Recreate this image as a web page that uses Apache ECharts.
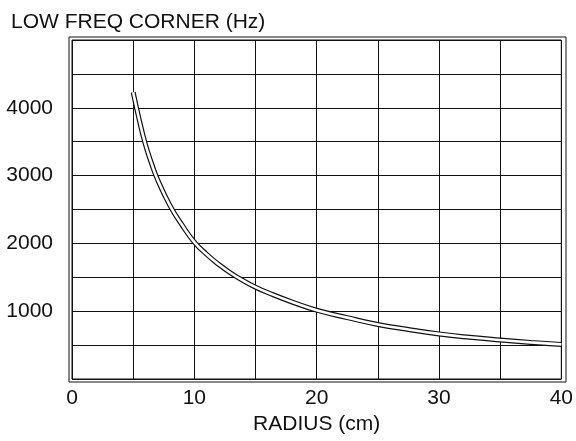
<!DOCTYPE html>
<html>
<head>
<meta charset="utf-8">
<script src="https://cdn.jsdelivr.net/npm/echarts@6/dist/echarts.min.js"></script>
<style>
html,body{margin:0;padding:0;background:#fff;}
#c{width:576px;height:441px;}
</style>
</head>
<body>
<div id="c"></div>
<script>
// Data
var radiusCm = [5, 5.5, 6, 6.5, 7, 8, 9, 10, 11, 12, 13, 14, 15, 16, 18, 20, 22.5, 25, 27.5, 30, 32.5, 35, 37.5, 40];
var cornerHz = [4230, 3820, 3460, 3180, 2940, 2560, 2270, 2020, 1840, 1690, 1560, 1450, 1355, 1275, 1135, 1015, 905, 805, 730, 665, 615, 575, 540, 510];
var xTickLabels = [0, 10, 20, 30, 40];
var yTickLabels = [1000, 2000, 3000, 4000];
var yTitle = 'LOW FREQ CORNER (Hz)';
var xTitle = 'RADIUS (cm)';

var pts = radiusCm.map(function (r, i) { return [r, cornerHz[i]]; });
var FONT = "'Liberation Sans', Arial, sans-serif";

var chart = echarts.init(document.getElementById('c'), null, { renderer: 'canvas' });
chart.setOption({
  animation: false,
  backgroundColor: '#fff',
  title: {
    text: yTitle,
    left: 6,
    top: 7,
    textStyle: { fontFamily: FONT, fontSize: 21, fontWeight: 'normal', color: '#111' }
  },
  grid: [
    { left: 72, top: 40, right: 13, bottom: 62, show: true, borderColor: '#111', borderWidth: 1, backgroundColor: 'transparent' },
    { left: 69, top: 37, right: 10, bottom: 59, show: true, borderColor: '#111', borderWidth: 1, backgroundColor: 'transparent' }
  ],
  xAxis: [
    {
      type: 'value', gridIndex: 0, min: 0, max: 40, interval: 5,
      axisLine: { show: false }, axisTick: { show: false },
      splitLine: { show: true, lineStyle: { color: '#111', width: 1 } },
      axisLabel: {
        margin: 9, fontFamily: FONT, fontSize: 21, color: '#111',
        formatter: function (v) { return xTickLabels.indexOf(v) >= 0 ? String(v) : ''; }
      },
      name: xTitle, nameLocation: 'middle', nameGap: 31,
      nameTextStyle: { fontFamily: FONT, fontSize: 21, color: '#111' }
    },
    { type: 'value', gridIndex: 1, show: false, min: 0, max: 1 }
  ],
  yAxis: [
    {
      type: 'value', gridIndex: 0, min: 0, max: 5000, interval: 500,
      axisLine: { show: false }, axisTick: { show: false },
      splitLine: { show: true, lineStyle: { color: '#111', width: 1 } },
      axisLabel: {
        margin: 19, fontFamily: FONT, fontSize: 21, color: '#111',
        formatter: function (v) { return yTickLabels.indexOf(v) >= 0 ? String(v) : ''; }
      }
    },
    { type: 'value', gridIndex: 1, show: false, min: 0, max: 1 }
  ],
  series: [
    {
      type: 'line', xAxisIndex: 0, yAxisIndex: 0, data: pts,
      smooth: 0.5, showSymbol: false, silent: true,
      lineStyle: { color: '#111', width: 5, cap: 'butt' }
    },
    {
      type: 'line', xAxisIndex: 0, yAxisIndex: 0, data: pts,
      smooth: 0.5, showSymbol: false, silent: true,
      lineStyle: { color: '#fff', width: 2.6, cap: 'butt' }
    }
  ]
});
</script>
</body>
</html>
